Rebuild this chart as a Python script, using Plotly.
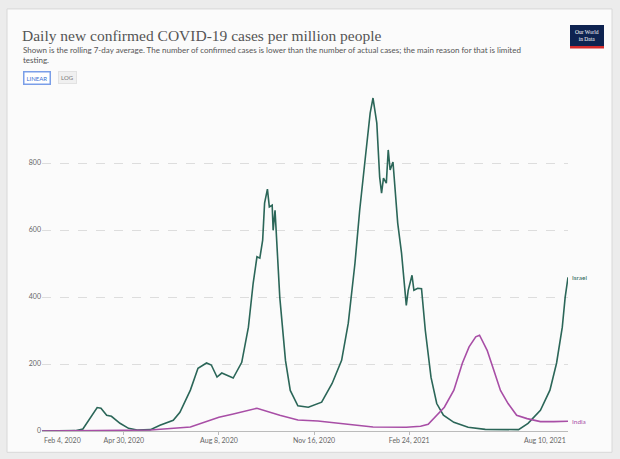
import plotly.graph_objects as go

israel_dates = ["2020-02-04","2020-03-10","2020-03-18","2020-03-25","2020-04-02","2020-04-06","2020-04-12","2020-04-17",
    "2020-04-26","2020-05-05","2020-05-14","2020-05-28","2020-06-07","2020-06-21","2020-06-28","2020-07-09",
    "2020-07-17","2020-07-26","2020-07-31","2020-08-06","2020-08-11","2020-08-23","2020-08-29","2020-09-01",
    "2020-09-08","2020-09-13","2020-09-17","2020-09-20","2020-09-23","2020-09-25","2020-09-28","2020-09-30",
    "2020-10-03","2020-10-04","2020-10-06","2020-10-08","2020-10-11","2020-10-17","2020-10-22","2020-10-30",
    "2020-11-10","2020-11-24","2020-12-05","2020-12-15","2020-12-22","2020-12-29","2021-01-03","2021-01-09",
    "2021-01-14","2021-01-17","2021-01-21","2021-01-24","2021-01-26","2021-01-28","2021-01-31","2021-02-02",
    "2021-02-04","2021-02-07","2021-02-12","2021-02-16","2021-02-20","2021-02-21","2021-02-23","2021-02-27",
    "2021-03-01","2021-03-05","2021-03-09","2021-03-13","2021-03-19","2021-03-25","2021-04-01","2021-04-12",
    "2021-04-27","2021-05-15","2021-06-19","2021-06-29","2021-07-12","2021-07-22","2021-07-29","2021-08-04",
    "2021-08-07","2021-08-10"]
israel_values = [0, 1, 6, 35, 70, 68, 47, 44,
    23, 8, 3, 4, 17, 32, 56, 122,
    187, 203, 197, 161, 173, 158, 191, 205,
    310, 441, 520, 516, 570, 680, 722, 669,
    674, 599, 659, 539, 399, 210, 121, 75,
    71, 86, 142, 211, 322, 500, 659, 818,
    949, 994, 919, 758, 710, 755, 740, 839,
    779, 803, 620, 531, 420, 375, 420, 465,
    420, 426, 425, 300, 160, 82, 47, 26,
    11, 5, 4, 23, 62, 122, 203, 310,
    399, 459]

india_dates = ["2020-02-04","2020-05-01","2020-05-28","2020-07-09","2020-08-08","2020-08-22","2020-09-17","2020-10-11",
    "2020-10-30","2020-11-20","2020-12-15","2021-01-17","2021-02-21","2021-03-08","2021-03-16","2021-03-23",
    "2021-04-02","2021-04-12","2021-04-21","2021-04-28","2021-05-05","2021-05-09","2021-05-17","2021-05-24",
    "2021-05-31","2021-06-08","2021-06-17","2021-06-28","2021-07-12","2021-07-26","2021-08-10"]
india_values = [0, 1, 3, 12, 41, 50, 68, 47,
    33, 30, 23, 12, 11, 14, 20, 41,
    71, 122, 203, 251, 281, 286, 241, 181,
    121, 82, 47, 37, 28, 28, 29]

y_ticks = [0, 200, 400, 600, 800]
x_tick_vals = ["2020-04-30", "2020-08-08", "2020-11-16", "2021-02-24"]
x_tick_text = ["Apr 30, 2020", "Aug 8, 2020", "Nov 16, 2020", "Feb 24, 2021"]
x_first, x_first_label = "2020-02-04", "Feb 4, 2020"
x_last, x_last_label = "2021-08-10", "Aug 10, 2021"

title = "Daily new confirmed COVID-19 cases per million people"
subtitle = ("Shown is the rolling 7-day average. The number of confirmed cases is lower than the number of actual cases; "
            "the main reason for that is limited<br>testing.")

C_ISR = "#2b6658"
C_IND = "#a84ea6"
GRAY = "#666666"

L, T, W, H = 42, 96, 526, 334.7


def px(x):
    return (x - L) / W


def py(y):
    return (T + H - y) / H


fig = go.Figure()
fig.add_trace(go.Scatter(x=israel_dates, y=israel_values, mode="lines", name="Israel",
                         line=dict(color=C_ISR, width=1.6)))
fig.add_trace(go.Scatter(x=india_dates, y=india_values, mode="lines", name="India",
                         line=dict(color=C_IND, width=1.6)))

fig.update_layout(
    width=620, height=459,
    margin=dict(l=L, r=620 - L - W, t=T, b=459 - T - H),
    paper_bgcolor="#ececec",
    plot_bgcolor="rgba(0,0,0,0)",
    showlegend=False,
    font=dict(family="Lato, sans-serif", size=7, color=GRAY),
    xaxis=dict(type="date", range=["2020-02-04", "2021-08-10"], tickvals=x_tick_vals, ticktext=x_tick_text,
               showgrid=False, zeroline=False, showline=True, linecolor="#bbbbbb", linewidth=1,
               ticks="outside", ticklen=3, tickcolor="#bbbbbb", tickfont=dict(size=7, color=GRAY)),
    yaxis=dict(range=[0, 1000], tickvals=y_ticks, showgrid=True, gridcolor="#dddddd", griddash="dash",
               zeroline=False, showline=False, ticks="", tickfont=dict(size=7, color=GRAY)),
)

# panel
fig.add_shape(type="rect", xref="paper", yref="paper", layer="below",
              x0=px(7), x1=px(612), y0=py(452), y1=py(9),
              fillcolor="#fbfbfb", line=dict(color="#d8d8d8", width=1))

fig.add_annotation(xref="paper", yref="paper", x=px(20), y=py(25), xanchor="left", yanchor="top",
                   text=title, showarrow=False, align="left",
                   font=dict(family="Liberation Serif, serif", size=15.5, color="#555555"))
fig.add_annotation(xref="paper", yref="paper", x=px(21), y=py(43), xanchor="left", yanchor="top",
                   text=subtitle, showarrow=False, align="left",
                   font=dict(family="Lato, sans-serif", size=8, color="#555555"))

# LINEAR / LOG buttons
fig.add_annotation(xref="paper", yref="paper", x=px(23), y=py(78), xanchor="left", yanchor="middle",
                   text="LINEAR", showarrow=False, font=dict(size=6, color="#3b6fd1"),
                   bordercolor="#7a9ee8", borderwidth=1.5, borderpad=2, bgcolor="#ffffff")
fig.add_annotation(xref="paper", yref="paper", x=px(58), y=py(78), xanchor="left", yanchor="middle",
                   text="LOG", showarrow=False, font=dict(size=6, color="#777777"),
                   bordercolor="#e2e2e2", borderwidth=1, borderpad=2, bgcolor="#f0f0f0")

# logo
fig.add_shape(type="rect", xref="paper", yref="paper",
              x0=px(570), x1=px(604), y0=py(46), y1=py(25),
              fillcolor="#0e2350", line=dict(width=0))
fig.add_shape(type="rect", xref="paper", yref="paper",
              x0=px(570), x1=px(604), y0=py(48.5), y1=py(46),
              fillcolor="#d42b2b", line=dict(width=0))
fig.add_annotation(xref="paper", yref="paper", x=px(587), y=py(35.5), xanchor="center", yanchor="middle",
                   text="Our World<br>in Data", showarrow=False,
                   font=dict(family="Liberation Serif, serif", size=5.5, color="#ffffff"))

# end tick labels
fig.add_annotation(x=x_first, y=0, yref="y", xanchor="left", yanchor="top", yshift=-3,
                   text=x_first_label, showarrow=False, font=dict(size=7, color=GRAY))
fig.add_annotation(x=x_last, y=0, yref="y", xanchor="right", yanchor="top", yshift=-3,
                   text=x_last_label, showarrow=False, font=dict(size=7, color=GRAY))

# series labels
fig.add_annotation(x=israel_dates[-1], y=israel_values[-1], xanchor="left", yanchor="middle", xshift=2,
                   text="Israel", showarrow=False, font=dict(size=6.5, color=C_ISR))
fig.add_annotation(x=india_dates[-1], y=india_values[-1], xanchor="left", yanchor="middle", xshift=2,
                   text="India", showarrow=False, font=dict(size=6.5, color=C_IND))

fig.write_html("out.html", config={"displayModeBar": False},
               post_script="document.body.style.margin='0';")
